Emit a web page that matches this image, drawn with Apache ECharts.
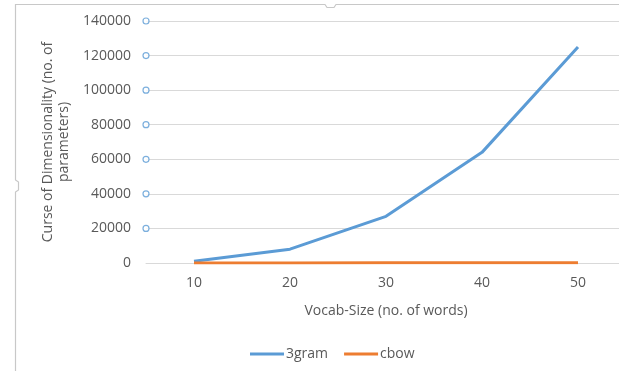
<!DOCTYPE html>
<html><head><meta charset="utf-8">
<script src="https://cdn.jsdelivr.net/npm/echarts@6/dist/echarts.min.js"></script>
<style>html,body{margin:0;padding:0;background:#fff;overflow:hidden;width:619px;height:372px}#c{width:626px;height:372px}</style>
</head><body><div id="c"></div>
<script>
const categories = ['10','20','30','40','50'];
const gram3 = [1000, 8000, 27000, 64000, 125000];
const cbow = [30, 60, 90, 120, 150];
const handleTicks = [20000, 40000, 60000, 80000, 100000, 120000, 140000];

const chart = echarts.init(document.getElementById('c'));
const font = '"Open Sans", "Liberation Sans", sans-serif';
chart.setOption({
  animation: false,
  textStyle: { fontFamily: font },
  graphic: [
    { type: 'polyline', silent: true, z: 100,
      shape: { points: [[15.5, 371], [15.5, 192], [18.5, 190], [18.5, 182], [15.5, 180], [15.5, 4.5], [325, 4.5], [327, 7.5], [334, 7.5], [336, 4.5], [625, 4.5]] },
      style: { stroke: '#c8c8c8', lineWidth: 1.2, fill: null } }
  ],
  grid: { left: 146, right: 0, top: 21, bottom: 109, containLabel: false },
  legend: {
    bottom: 6, left: 245, itemGap: 16, itemWidth: 34, itemHeight: 3,
    icon: 'rect',
    textStyle: { color: '#595959', fontSize: 14, fontFamily: font, padding: [0, 0, 0, -3] },
    data: ['3gram', 'cbow']
  },
  xAxis: [{
    type: 'category', data: categories, boundaryGap: true,
    axisLine: { lineStyle: { color: '#d9d9d9' } },
    axisTick: { show: false },
    axisLabel: { color: '#595959', fontSize: 14, margin: 13 },
    name: 'Vocab-Size (no. of words)', nameLocation: 'middle', nameGap: 41,
    nameTextStyle: { color: '#595959', fontSize: 14 }
  }, {
    type: 'value', min: 0, max: 1, show: false
  }],
  yAxis: {
    type: 'value', min: 0, max: 140000, interval: 20000,
    axisLine: { show: false }, axisTick: { show: false },
    splitLine: { lineStyle: { color: '#d9d9d9' } },
    axisLabel: { color: '#595959', fontSize: 14, margin: 15, formatter: v => String(v) },
    name: 'Curse of Dimensionality (no. of\nparameters)', nameLocation: 'middle', nameGap: 64,
    nameTextStyle: { color: '#595959', fontSize: 14, lineHeight: 16 }
  },
  series: [
    { name: '3gram', type: 'line', data: gram3, symbol: 'none', lineStyle: { color: '#5b9bd5', width: 3 }, itemStyle: { color: '#5b9bd5' } },
    { name: 'cbow', type: 'line', data: cbow, symbol: 'none', lineStyle: { color: '#ed7d31', width: 3 }, itemStyle: { color: '#ed7d31' } },
    { name: 'handles', type: 'scatter', xAxisIndex: 1, data: handleTicks.map(v => [0, v]), symbol: 'circle', symbolSize: 6,
      itemStyle: { color: '#fff', borderColor: '#5b9bd5', borderWidth: 1.2 }, silent: true, z: 5 }
  ]
});
</script></body></html>
